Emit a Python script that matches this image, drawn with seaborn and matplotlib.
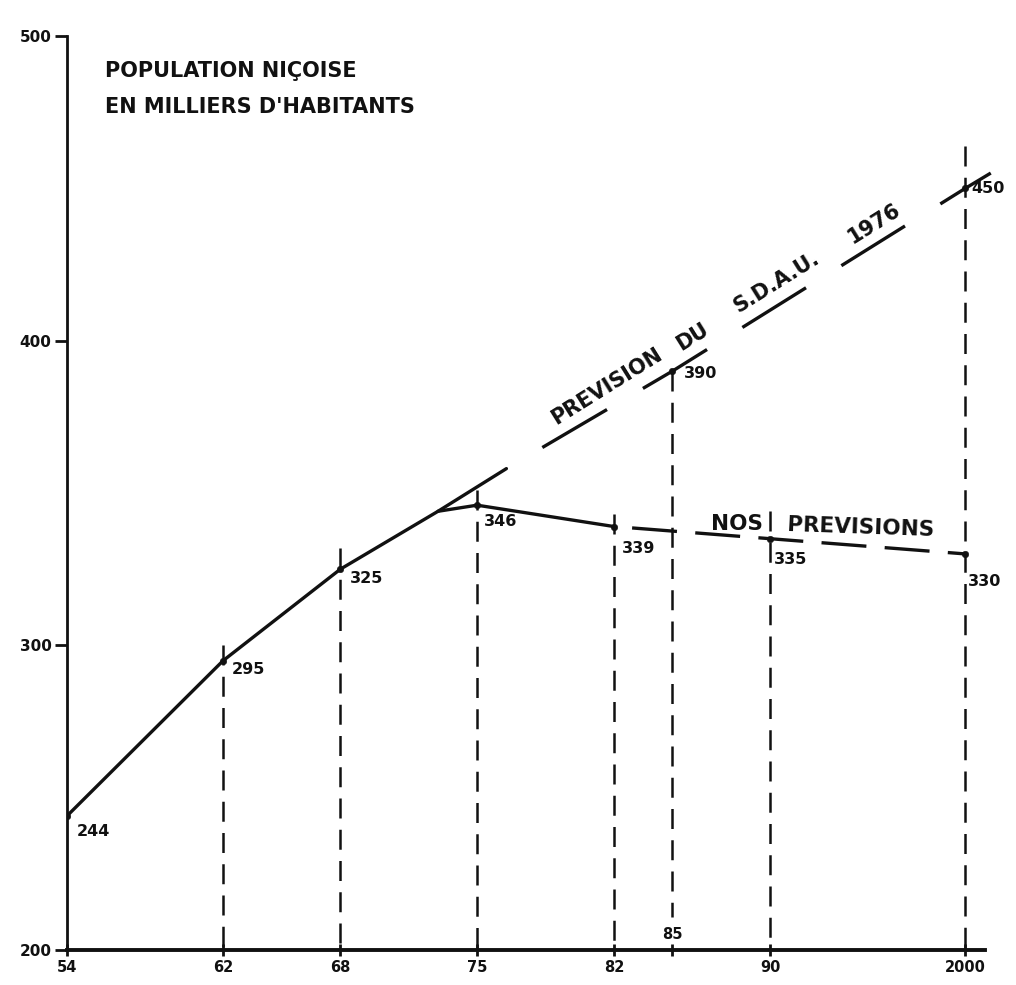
import numpy as np
import pandas as pd
import seaborn as sns
import matplotlib.pyplot as plt

# population niçoise, en milliers d'habitants
obs_years = [1954, 1962, 1968, 1973, 1975, 1982]
obs_values = [244, 295, 325, 344, 346, 339]

nos_years = [1982, 1990, 2000]
nos_values = [339, 335, 330]

sdau_solid_years = [1973, 1976.5]
sdau_solid_values = [344, 358]
sdau_years = [1976.5, 1985, 2000, 2001.3]
sdau_values = [358, 390, 450, 455]

# dashed guides down to the axis
guide_years = [1962, 1968, 1975, 1982, 1985, 1990, 2000]
guide_tops = [300, 332, 351, 343, 390, 344, 464]
guide_bottoms = [200, 200, 200, 200, 211, 200, 200]

point_years = [1954, 1962, 1968, 1975, 1982, 1985, 1990, 2000, 2000]
point_values = [244, 295, 325, 346, 339, 390, 335, 450, 330]
point_labels = ['244', '295', '325', '346', '339', '390', '335', '450', '330']
label_offsets = [(7, -11), (6.5, -6.5), (7, -6.5), (5, -12), (6, -16), (8, -2), (3, -15), (4, 0), (2, -20)]

x_ticks = [1954, 1962, 1968, 1975, 1982, 1985, 1990, 2000]
x_tick_labels = ['54', '62', '68', '75', '82', '', '90', '2000']
y_ticks = [200, 300, 400, 500]

sns.set_style('ticks')
plt.rcParams['font.family'] = ['DejaVu Sans']
plt.rcParams['font.weight'] = 'bold'

ink = '#111111'
fig = plt.figure(figsize=(10.16, 9.85), dpi=100)
ax = fig.add_axes([0.0659, 0.0355, 0.9035, 0.928])

# observed curve
sns.lineplot(x=obs_years, y=obs_values, ax=ax, color=ink, lw=2.4, sort=False)
# our forecast
sns.lineplot(x=nos_years, y=nos_values, ax=ax, color=ink, lw=2.4, sort=False,
             linestyle=(13.5, (13.5, 5.5)))
# S.D.A.U. forecast
sns.lineplot(x=sdau_solid_years, y=sdau_solid_values, ax=ax, color=ink, lw=2.4, sort=False)
sns.lineplot(x=sdau_years, y=sdau_values, ax=ax, color=ink, lw=2.4, sort=False,
             linestyle=(22.5, (22.5, 12.5)), clip_on=False)

for yr, top, bot in zip(guide_years, guide_tops, guide_bottoms):
    ax.plot([yr, yr], [top, bot], color=ink, lw=1.8, linestyle=(0, (8, 4.5)))

sns.scatterplot(x=point_years, y=point_values, ax=ax, color=ink, s=22, edgecolor=ink, zorder=5)

for yr, val, lab, off in zip(point_years, point_values, point_labels, label_offsets):
    ax.annotate(lab, (yr, val), xytext=off, textcoords='offset points',
                ha='left', va='center', fontsize=11.5, fontweight='bold', color=ink)

# texts along the lines
for txt, yr, val in [('PREVISION', 1981.64, 385.0), ('DU', 1986.0, 401.2),
                     ('S.D.A.U.', 1990.33, 419.2), ('1976', 1995.35, 438.6)]:
    ax.text(yr, val, txt, rotation=32, ha='center', va='center', rotation_mode='anchor',
            fontsize=15, fontweight='bold', color=ink)
ax.text(1988.29, 339.8, 'NOS', ha='center', va='center', fontsize=15.5, fontweight='bold', color=ink)
ax.text(1994.63, 338.8, 'PREVISIONS', ha='center', va='center', rotation=-2,
        fontsize=15.5, fontweight='bold', color=ink)
ax.text(1985, 205, '85', ha='center', va='center', fontsize=10.5, fontweight='bold', color=ink)

fig.text(0.103, 0.928, 'POPULATION NIÇOISE', ha='left', va='center',
         fontsize=15, fontweight='bold', color=ink)
fig.text(0.103, 0.891, "EN MILLIERS D'HABITANTS", ha='left', va='center',
         fontsize=15, fontweight='bold', color=ink)

ax.set_xlim(1954, 2001)
ax.set_ylim(200, 500)
ax.set_xticks(x_ticks)
ax.set_xticklabels(x_tick_labels)
ax.set_yticks(y_ticks)
ax.set_xlabel('')
ax.set_ylabel('')
ax.spines[['top', 'right']].set_visible(False)
ax.spines['left'].set_linewidth(2)
ax.spines['bottom'].set_linewidth(2.8)
ax.spines['left'].set_color(ink)
ax.spines['bottom'].set_color(ink)
ax.tick_params(axis='y', direction='out', length=9, width=2, labelsize=11, pad=2, colors=ink)
ax.tick_params(axis='x', direction='inout', length=8, width=2, labelsize=10.5, pad=3, colors=ink)
for t in ax.get_xticklabels() + ax.get_yticklabels():
    t.set_fontweight('bold')

fig.savefig('out.png', dpi=100)
